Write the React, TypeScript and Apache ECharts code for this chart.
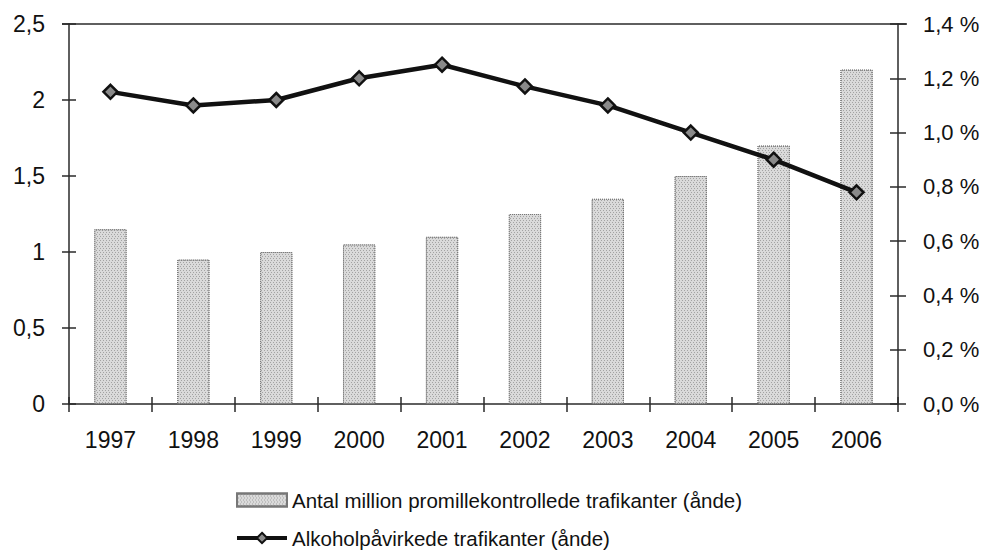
import React, { useEffect, useRef } from "react";
import * as echarts from "echarts";

const years = ["1997", "1998", "1999", "2000", "2001", "2002", "2003", "2004", "2005", "2006"];
const controls = [1.15, 0.95, 1.0, 1.05, 1.1, 1.25, 1.35, 1.5, 1.7, 2.2];
const influenced = [1.15, 1.1, 1.12, 1.2, 1.25, 1.17, 1.1, 1.0, 0.9, 0.78];
const barName = "Antal million promillekontrollede trafikanter (ånde)";
const lineName = "Alkoholpåvirkede trafikanter (ånde)";

const FONT = "'Liberation Sans', Arial, sans-serif";
const AX = "#2a2a2a";

export default function App() {
  const ref = useRef<HTMLDivElement>(null);
  useEffect(() => {
    if (!ref.current) return;
    const chart = echarts.init(ref.current, null, { renderer: "svg" });
    const axisLine = { show: true, lineStyle: { color: AX, width: 1.5 } };
    const leftFmt = (v: number) => String(v).replace(".", ",");
    const rightFmt = (v: number) => v.toFixed(1).replace(".", ",") + " %";
    const stipple = {
      symbol: "rect",
      symbolSize: 1,
      color: "rgba(60,60,60,0.35)",
      dashArrayX: [[1, 2], [0, 1, 1, 1]],
      dashArrayY: [1, 1],
      rotation: 0,
    };
    chart.setOption({
      animation: false,
      backgroundColor: "#ffffff",
      textStyle: { fontFamily: FONT },
      grid: { left: 69, right: 89, top: 24, bottom: 147 },
      graphic: [
        {
          type: "line",
          shape: { x1: 62, y1: 24, x2: 907, y2: 24 },
          style: { stroke: AX, lineWidth: 1.5 },
          silent: true,
        },
      ],
      legend: {
        orient: "vertical",
        left: 230,
        top: 484,
        height: 70,
        itemGap: 16,
        itemWidth: 50,
        itemHeight: 13,
        textStyle: { fontFamily: FONT, fontSize: 20.5, lineHeight: 22, color: "#111" },
        data: [
          { name: barName, icon: "rect" },
          { name: lineName, lineStyle: { width: 4, color: "#111" } },
        ],
      },
      xAxis: [
        {
          type: "category",
          data: years,
          position: "bottom",
          axisLine,
          axisTick: { show: true, length: 8, lineStyle: { color: AX, width: 1.5 } },
          axisLabel: { fontFamily: FONT, fontSize: 23, color: "#111", margin: 24 },
        },
        {
          type: "category",
          data: years,
          position: "bottom",
          axisLine: { show: false },
          axisTick: { show: true, inside: true, length: 7, lineStyle: { color: AX, width: 1.5 } },
          axisLabel: { show: false },
        },
      ],
      yAxis: [
        {
          type: "value",
          min: 0,
          max: 2.5,
          interval: 0.5,
          position: "left",
          axisLine,
          axisTick: { show: true, length: 7, lineStyle: { color: AX, width: 1.5 } },
          splitLine: { show: false },
          axisLabel: { fontFamily: FONT, fontSize: 23, color: "#111", margin: 24, formatter: leftFmt },
        },
        {
          type: "value",
          min: 0,
          max: 1.4,
          interval: 0.2,
          position: "right",
          axisLine,
          axisTick: { show: true, length: 8, lineStyle: { color: AX, width: 1.5 } },
          splitLine: { show: false },
          axisLabel: { fontFamily: FONT, fontSize: 22, color: "#111", margin: 25, formatter: rightFmt },
        },
        {
          type: "value",
          min: 0,
          max: 2.5,
          interval: 0.5,
          position: "left",
          axisLine: { show: false },
          axisTick: { show: true, inside: true, length: 7, lineStyle: { color: AX, width: 1.5 } },
          splitLine: { show: false },
          axisLabel: { show: false },
        },
        {
          type: "value",
          min: 0,
          max: 1.4,
          interval: 0.2,
          position: "right",
          axisLine: { show: false },
          axisTick: { show: true, inside: true, length: 8, lineStyle: { color: AX, width: 1.5 } },
          splitLine: { show: false },
          axisLabel: { show: false },
        },
      ],
      series: [
        {
          name: barName,
          type: "bar",
          data: controls,
          xAxisIndex: 0,
          yAxisIndex: 0,
          barWidth: "39%",
          itemStyle: {
            color: "#dadada",
            borderColor: "#777777",
            borderType: "dotted",
            borderWidth: 1,
            decal: stipple,
          },
        },
        {
          name: lineName,
          type: "line",
          data: influenced,
          xAxisIndex: 0,
          yAxisIndex: 1,
          symbol: "diamond",
          symbolSize: 14,
          lineStyle: { color: "#111", width: 4.5 },
          itemStyle: { color: "#8a8a8a", borderColor: "#111", borderWidth: 2.5 },
          z: 5,
        },
      ],
    });
    return () => chart.dispose();
  }, []);
  return (
    <div
      ref={ref}
      style={{ position: "absolute", left: 0, top: 0, width: 987, height: 551, background: "#fff" }}
    />
  );
}
